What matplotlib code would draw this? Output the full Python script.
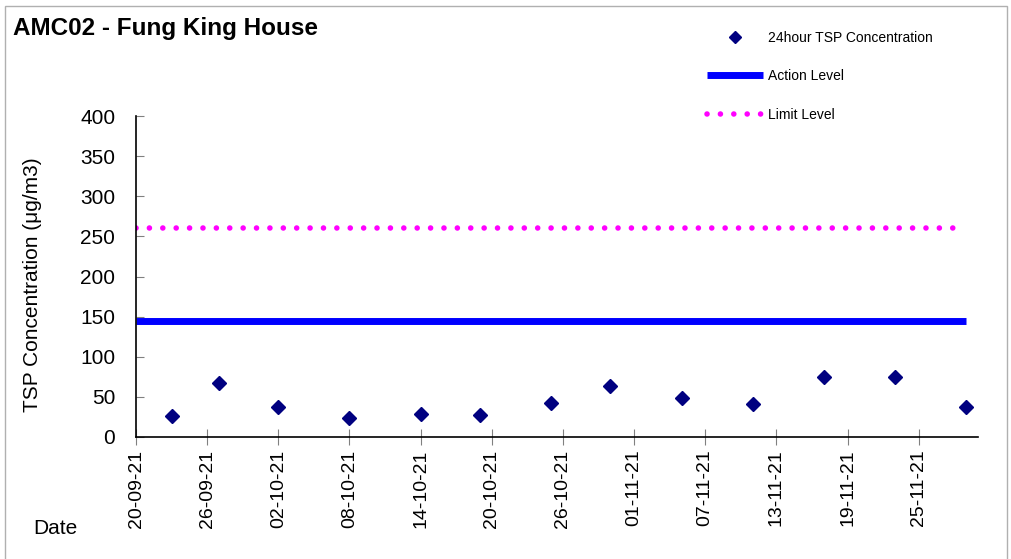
import datetime as dt

import matplotlib
matplotlib.use('Agg')
import matplotlib.pyplot as plt
import matplotlib.dates as mdates
from matplotlib.patches import Rectangle

# sample dates and 24-hour TSP readings (ug/m3)
sample_dates = ['2021-09-23', '2021-09-27', '2021-10-02', '2021-10-08',
                '2021-10-14', '2021-10-19', '2021-10-25', '2021-10-30',
                '2021-11-05', '2021-11-11', '2021-11-17', '2021-11-23',
                '2021-11-29']
tsp_values = [26, 67, 38, 24, 29, 28, 42, 63, 48, 41, 75, 75, 38]

action_level = 145
limit_level = 260

start_date = '2021-09-20'
end_date = '2021-11-30'

plt.rcParams['font.family'] = ['Liberation Sans', 'DejaVu Sans']

to_date = lambda s: dt.datetime.strptime(s, '%Y-%m-%d')
dates = [to_date(s) for s in sample_dates]
x0, x1 = to_date(start_date), to_date(end_date)

fig = plt.figure(figsize=(10.12, 5.59), dpi=100)
ax = fig.add_axes([136 / 1012, 1 - 437 / 559, (978 - 136) / 1012, (437 - 116) / 559])

ax.plot(dates, tsp_values, linestyle='none', marker='D', markersize=7.5,
        color='#000080', label='24hour TSP Concentration', zorder=3)
ax.plot([x0, dates[-1]], [action_level, action_level], color='#0000FF',
        linewidth=5, solid_capstyle='butt', label='Action Level')
ax.plot([x0, dates[-1]], [limit_level, limit_level], color='#FF00FF',
        linewidth=4, linestyle=(0, (0.01, 2.4)), dash_capstyle='round',
        label='Limit Level')

ax.set_xlim(x0, x1)
ax.set_ylim(0, 400)
ax.set_yticks(range(0, 401, 50))
# ticks every 6 days from the start date
ticks = [mdates.date2num(x0) + 6 * i for i in range(12)]
ax.set_xticks(ticks)
ax.xaxis.set_major_formatter(mdates.DateFormatter('%d-%m-%y'))
ax.tick_params(axis='x', labelsize=14, labelrotation=90, direction='inout',
               length=12, color='#808080', pad=3)
ax.tick_params(axis='y', labelsize=15, direction='in', length=6,
               color='#808080', pad=15)

for side in ('top', 'right'):
    ax.spines[side].set_visible(False)
for side in ('left', 'bottom'):
    ax.spines[side].set_color('black')
    ax.spines[side].set_linewidth(1.2)

fig.text(33 / 1012, 1 - 285 / 559, 'TSP Concentration (\u03bcg/m3)',
         rotation=90, ha='center', va='center', fontsize=15)
fig.text(33 / 1012, 1 - 528 / 559, 'Date', ha='left', va='center', fontsize=15)
fig.text(13 / 1012, 1 - 29 / 559, 'AMC02 - Fung King House', ha='left',
         va='center', fontsize=17.5, fontweight='bold')

ax.legend(loc='upper left', bbox_to_anchor=(707 / 1012, 1 - 31 / 559),
          bbox_transform=fig.transFigure, frameon=False, fontsize=10,
          borderpad=0, borderaxespad=0, handlelength=4, handletextpad=0.4,
          labelspacing=1.75, markerscale=0.8)

fig.patches.append(Rectangle((5 / 1012, -0.01), (1007 - 5) / 1012, 1.01 - 6 / 559,
                             transform=fig.transFigure, fill=False,
                             edgecolor='#b0b0b0', linewidth=1))

fig.savefig('out.png', dpi=100)
